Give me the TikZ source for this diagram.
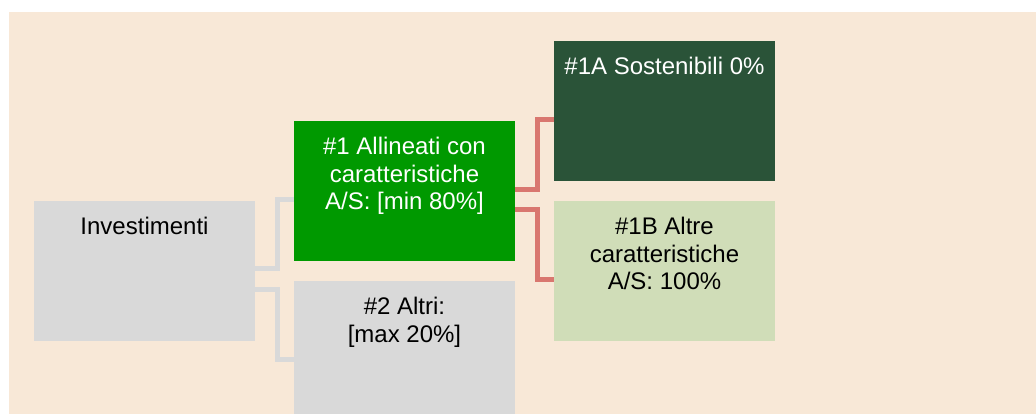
\documentclass[tikz,border=0pt]{standalone}
\usepackage{fontspec}
\setmainfont{Liberation Sans}
\usetikzlibrary{calc}
\definecolor{bgbeige}{HTML}{F8E8D7}
\definecolor{dkgreen}{HTML}{2A5338}
\definecolor{mgreen}{HTML}{009900}
\definecolor{ltgreen}{HTML}{D0DDB8}
\definecolor{boxgrey}{HTML}{D9D9D9}
\definecolor{redline}{HTML}{D9776F}
\newlength{\px}
\setlength{\px}{0.75pt}
\begin{document}
\begin{tikzpicture}[x=0.75pt,y=-0.75pt,
  box/.style={draw=none, minimum width=221\px, minimum height=140\px, inner sep=0pt, outer sep=0pt},
  txt/.style={anchor=north, align=center, inner sep=0pt, font=\fontsize{18pt}{20.6pt}\selectfont},
  greyconn/.style={draw=boxgrey, line width=5\px},
  redconn/.style={draw=redline, line width=5\px}]
\clip (0,0) rectangle (1036,414);
\fill[bgbeige] (9,12) rectangle (1040,420);
% boxes
\node[box, fill=boxgrey] (inv) at (144.5,271) {};
\node[box, fill=mgreen] (p1) at (404.5,191) {};
\node[box, fill=boxgrey] (p2) at (404.5,351) {};
\node[box, fill=dkgreen] (a) at (664.5,111) {};
\node[box, fill=ltgreen] (b) at (664.5,271) {};
% connectors
\draw[greyconn] ([yshift=3\px]inv.east) -- ++(22,0) |- ([yshift=-8\px]p1.west);
\draw[greyconn] ([yshift=-18\px]inv.east) -- ++(22,0) |- ([yshift=-8\px]p2.west);
\draw[redconn] ([yshift=2\px]p1.east) -- ++(22,0) |- ([yshift=-8\px]a.west);
\draw[redconn] ([yshift=-18\px]p1.east) -- ++(22,0) |- ([yshift=-8\px]b.west);
% texts
\node[txt] (invt) at ([yshift=-16\px]inv.north) {Investimenti};
\node[txt, text=white] (p1t) at ([yshift=-16\px]p1.north) {\#1 Allineati con\\caratteristiche\\A/S: [min 80\%]};
\node[txt] (p2t) at ([yshift=-16\px]p2.north) {\#2 Altri:\\{}[max 20\%]};
\node[txt, text=white] (at) at ([yshift=-16\px]a.north) {\#1A Sostenibili 0\%};
\node[txt] (bt) at ([yshift=-16\px]b.north) {\#1B Altre\\caratteristiche\\A/S: 100\%};
\end{tikzpicture}
\end{document}
